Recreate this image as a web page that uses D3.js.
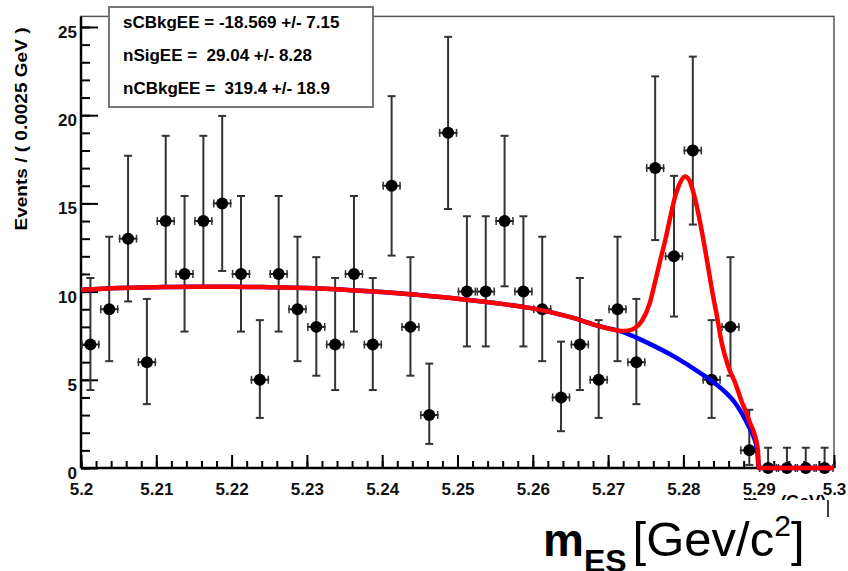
<!DOCTYPE html>
<html>
<meta charset="utf-8">
<script src="https://d3js.org/d3.v7.min.js"></script>
<style>
  body { margin: 0; background: #fff; }
  text { font-family: "Liberation Sans", Arial, sans-serif; }
</style>
<body>
<div id="chart"></div>
<script>

// histogram bins (centres, GeV) and event counts
var binCenters = [5.20125, 5.20375, 5.20625, 5.20875, 5.21125, 5.21375, 5.21625, 5.21875,
                  5.22125, 5.22375, 5.22625, 5.22875, 5.23125, 5.23375, 5.23625, 5.23875,
                  5.24125, 5.24375, 5.24625, 5.24875, 5.25125, 5.25375, 5.25625, 5.25875,
                  5.26125, 5.26375, 5.26625, 5.26875, 5.27125, 5.27375, 5.27625, 5.27875,
                  5.28125, 5.28375, 5.28625, 5.28875, 5.29125, 5.29375, 5.29625, 5.29875];
var counts = [7, 9, 13, 6, 14, 11, 14, 15, 11, 5, 11, 9, 8, 7, 11, 7, 16, 8, 3, 19,
              10, 10, 14, 10, 9, 4, 7, 5, 9, 6, 17, 12, 18, 5, 8, 1, 0, 0, 0, 0];
var binHalfWidth = 0.00125;

// Poisson 68% interval edges for n = 0..19 (as drawn by RooFit)
var poissonLo = [0, 0.173, 0.708, 1.367, 2.086, 2.840, 3.620, 4.419, 5.232, 6.057,
                 6.891, 7.734, 8.585, 9.441, 10.30, 11.17, 12.04, 12.92, 13.80, 14.68];
var poissonHi = [1.148, 3.300, 4.638, 5.918, 7.163, 8.382, 9.584, 10.77, 11.95, 13.11,
                 14.27, 15.42, 16.56, 17.70, 18.83, 19.96, 21.08, 22.20, 23.32, 24.44];

// background (blue) curve
var bkgX = [5.200, 5.205, 5.210, 5.215, 5.220, 5.225, 5.230, 5.235, 5.240, 5.245, 5.250,
            5.255, 5.260, 5.265, 5.2691, 5.2718, 5.2736, 5.2758, 5.278, 5.280, 5.2816,
            5.2842, 5.2855, 5.2869, 5.2878, 5.2887, 5.2893, 5.2898, 5.2900, 5.2950, 5.3000];
var bkgY = [10.10, 10.20, 10.25, 10.28, 10.28, 10.25, 10.20, 10.10, 9.98, 9.80, 9.60,
            9.35, 9.05, 8.55, 8.01, 7.73, 7.42, 6.98, 6.50, 6.00, 5.56,
            4.80, 4.33, 3.67, 3.07, 2.34, 1.80, 1.00, 0, 0, 0];

// total fit (red) curve
var totX = [5.200, 5.205, 5.210, 5.215, 5.220, 5.225, 5.230, 5.235, 5.240, 5.245, 5.250,
            5.255, 5.260, 5.265, 5.2691, 5.2705, 5.2718, 5.2728, 5.2736, 5.2745, 5.2755,
            5.2762, 5.2770, 5.2776, 5.2783, 5.2789, 5.2796, 5.2802, 5.2808, 5.2811, 5.2818,
            5.2825, 5.2832, 5.2838, 5.2845, 5.2851, 5.2860, 5.2869, 5.2878, 5.2882, 5.2888,
            5.2894, 5.2899, 5.2900, 5.2950, 5.3000];
var totY = [10.10, 10.20, 10.25, 10.28, 10.28, 10.25, 10.20, 10.10, 9.98, 9.80, 9.60,
            9.35, 9.05, 8.55, 8.01, 7.86, 7.76, 7.80, 7.95, 8.35, 9.30,
            10.47, 11.90, 12.93, 14.30, 15.38, 16.20, 16.52, 16.30, 15.95, 14.80,
            13.30, 11.60, 10.09, 8.50, 7.07, 5.70, 4.80, 3.70, 3.30, 2.60,
            1.97, 1.00, 0, 0, 0];

var xTicks = [5.2, 5.21, 5.22, 5.23, 5.24, 5.25, 5.26, 5.27, 5.28, 5.29, 5.3];
var yTicks = [0, 5, 10, 15, 20, 25];
var fitParams = ["sCBkgEE = -18.569 +/- 7.15",
                 "nSigEE =  29.04 +/- 8.28",
                 "nCBkgEE =  319.4 +/- 18.9"];

var W = 848, H = 571;
var svg = d3.select("#chart").append("svg")
    .attr("width", W)
    .attr("height", H);

var x = d3.scaleLinear().domain([5.2, 5.3]).range([81, 834]);
var y = d3.scaleLinear().domain([0, 25.6]).range([468, 16.4]);

// frame
svg.append("rect")
    .attr("x", x(5.2)).attr("y", y(25.6))
    .attr("width", x(5.3) - x(5.2)).attr("height", y(0) - y(25.6))
    .attr("fill", "none").attr("stroke", "#555").attr("stroke-width", 1.5);

// minor ticks
svg.append("g")
    .attr("transform", "translate(" + x(5.2) + ",0)")
    .call(d3.axisLeft(y).tickValues(d3.range(0, 26, 1)).tickSize(-9).tickFormat(""))
    .call(function(g) { g.select(".domain").remove(); })
    .selectAll("line").attr("stroke", "#000").attr("stroke-width", 2);
svg.append("g")
    .attr("transform", "translate(0," + y(0) + ")")
    .call(d3.axisBottom(x).tickValues(d3.range(0, 51).map(function(i) { return 5.2 + i * 0.002; }))
          .tickSize(-7).tickFormat(""))
    .call(function(g) { g.select(".domain").remove(); })
    .selectAll("line").attr("stroke", "#000").attr("stroke-width", 2);

// major ticks + labels
var yAxis = svg.append("g")
    .attr("transform", "translate(" + x(5.2) + ",0)")
    .call(d3.axisLeft(y).tickValues(yTicks).tickSize(-17).tickPadding(4))
    .call(function(g) { g.select(".domain").remove(); });
yAxis.selectAll("line").attr("stroke", "#000").attr("stroke-width", 2);
yAxis.selectAll("text")
    .attr("dy", "0.62em")
    .style("font-size", "17px").style("font-weight", "bold").attr("fill", "#111");

var xAxis = svg.append("g")
    .attr("transform", "translate(0," + y(0) + ")")
    .call(d3.axisBottom(x).tickValues(xTicks).tickSize(-13).tickPadding(15)
          .tickFormat(function(d) { return +d.toFixed(2); }))
    .call(function(g) { g.select(".domain").remove(); });
xAxis.selectAll("line").attr("stroke", "#000").attr("stroke-width", 2);
xAxis.selectAll("text")
    .style("font-size", "17px").style("font-weight", "bold").attr("fill", "#111");

// axis lines
svg.append("line")
    .attr("x1", x(5.2)).attr("x2", x(5.2)).attr("y1", y(25.6)).attr("y2", y(0))
    .attr("stroke", "#000").attr("stroke-width", 2.5);
svg.append("line")
    .attr("x1", x(5.2)).attr("x2", x(5.3)).attr("y1", y(0)).attr("y2", y(0))
    .attr("stroke", "#000").attr("stroke-width", 2.5);

// y title
svg.append("text")
    .attr("transform", "translate(27,129) rotate(-90)")
    .attr("text-anchor", "middle")
    .attr("textLength", 203).attr("lengthAdjust", "spacingAndGlyphs")
    .style("font-size", "17px").style("font-weight", "bold")
    .text("Events / ( 0.0025 GeV )");

// data points
var pts = binCenters.map(function(c, i) {
  return { x: c, n: counts[i], lo: poissonLo[counts[i]], hi: poissonHi[counts[i]] };
});
var pg = svg.append("g").selectAll("g").data(pts).enter().append("g");
pg.append("line")
    .attr("x1", function(d) { return x(d.x); }).attr("x2", function(d) { return x(d.x); })
    .attr("y1", function(d) { return y(d.lo); }).attr("y2", function(d) { return y(d.hi); })
    .attr("stroke", "#333").attr("stroke-width", 2);
[["lo"], ["hi"]].forEach(function(k) {
  pg.filter(function(d) { return k[0] == "hi" || d.n > 0; }).append("line")
      .attr("x1", function(d) { return x(d.x) - 4; }).attr("x2", function(d) { return x(d.x) + 4; })
      .attr("y1", function(d) { return y(d[k[0]]); }).attr("y2", function(d) { return y(d[k[0]]); })
      .attr("stroke", "#333").attr("stroke-width", 2);
});
pg.append("line")
    .attr("x1", function(d) { return x(d.x - binHalfWidth); }).attr("x2", function(d) { return x(d.x + binHalfWidth); })
    .attr("y1", function(d) { return y(d.n); }).attr("y2", function(d) { return y(d.n); })
    .attr("stroke", "#222").attr("stroke-width", 2);
pg.append("line")
    .attr("x1", function(d) { return x(d.x - binHalfWidth) + 1; }).attr("x2", function(d) { return x(d.x - binHalfWidth) + 1; })
    .attr("y1", function(d) { return y(d.n) - 4; }).attr("y2", function(d) { return y(d.n) + 4; })
    .attr("stroke", "#333").attr("stroke-width", 1.5);
pg.append("line")
    .attr("x1", function(d) { return x(d.x + binHalfWidth) - 1; }).attr("x2", function(d) { return x(d.x + binHalfWidth) - 1; })
    .attr("y1", function(d) { return y(d.n) - 4; }).attr("y2", function(d) { return y(d.n) + 4; })
    .attr("stroke", "#333").attr("stroke-width", 1.5);
pg.append("circle")
    .attr("cx", function(d) { return x(d.x); })
    .attr("cy", function(d) { return y(d.n); })
    .attr("r", 6).attr("fill", "#000");

// fit curves
var line = d3.line()
    .x(function(d) { return x(d[0]); })
    .y(function(d) { return y(d[1]); })
    .curve(d3.curveMonotoneX);
svg.append("path")
    .datum(bkgX.map(function(v, i) { return [v, bkgY[i]]; }))
    .attr("d", line).attr("fill", "none").attr("stroke", "#0000ff").attr("stroke-width", 4.5);
svg.append("path")
    .datum(totX.map(function(v, i) { return [v, totY[i]]; }))
    .attr("d", line).attr("fill", "none").attr("stroke", "#ff0000").attr("stroke-width", 4.5);

// parameter box
svg.append("rect")
    .attr("x", 109).attr("y", 7).attr("width", 264).attr("height", 100)
    .attr("fill", "#fff").attr("stroke", "#777").attr("stroke-width", 2);
svg.append("g").selectAll("text").data(fitParams).enter().append("text")
    .attr("x", 123)
    .attr("y", function(d, i) { return 28 + i * 33; })
    .style("font-size", "17px").style("font-weight", "bold").style("white-space", "pre")
    .text(function(d) { return d; });

// ROOT x title, mostly hidden behind the big label
svg.append("text")
    .attr("x", 743).attr("y", 507)
    .style("font-size", "17px").style("font-weight", "bold")
    .text("m");
svg.append("text")
    .attr("x", 826).attr("y", 507)
    .attr("text-anchor", "end")
    .style("font-size", "17px").style("font-weight", "bold")
    .text("(GeV)");
svg.append("rect")
    .attr("x", 500).attr("y", 500).attr("width", 327).attr("height", 71)
    .attr("fill", "#fff");
svg.append("line")
    .attr("x1", 828).attr("x2", 828).attr("y1", 500).attr("y2", 517)
    .attr("stroke", "#000").attr("stroke-width", 1.5);

// big axis label
var lab = svg.append("text").attr("x", 543).attr("y", 556);
lab.append("tspan").style("font-size", "46px").style("font-weight", "bold").text("m");
lab.append("tspan").attr("dy", 16).style("font-size", "32px").style("font-weight", "bold").text("ES");
lab.append("tspan").attr("dy", -16).attr("dx", 6).style("font-size", "49px").text("[Gev/c");
lab.append("tspan").attr("dy", -20).style("font-size", "30px").text("2");
lab.append("tspan").attr("dy", 20).style("font-size", "49px").text("]");

</script>
</body>
</html>
